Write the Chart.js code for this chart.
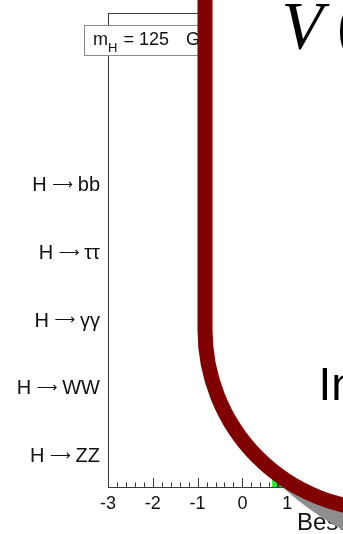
<!DOCTYPE html>
<html>
<head>
<meta charset="utf-8">
<title>Best fit signal strength</title>
<script src="https://cdn.jsdelivr.net/npm/chart.js@4.4.1/dist/chart.umd.min.js"></script>
<style>
  html, body { margin: 0; padding: 0; background: #fff; }
  .chart-container { width: 343px; height: 534px; }
</style>
</head>
<body>
<div class="chart-container"><canvas id="myChart" width="343" height="534"></canvas></div>
<script>
/******************************************* chart data **/
// decay channels, bottom to top
const channels = ["H → ZZ", "H → WW", "H → γγ", "H → ττ", "H → bb"];

// best fit sigma/sigma_SM per channel (hidden under the slide frame)
const muBest = [0.91, 0.76, 0.78, 1.1, 1.15];
const muErrDown = [0.24, 0.21, 0.26, 0.41, 0.62];
const muErrUp = [0.3, 0.21, 0.28, 0.41, 0.62];

// combined result and its green band
const muCombined = [0.8];
const bandEdges = [0.66, 0.94];

// x axis tick labels
const xTicks = [-3, -2, -1, 0, 1, 2];

/******************************************* dom selectors **/
const ctx = document.getElementById("myChart");

/******************************************* global variable**/
const yMin = -0.47;
const yMax = 6.53;
const axisColor = "#3a3a3a";
const textColor = "#111";
const sans = "'Liberation Sans', Arial, sans-serif";
const serif = "'Liberation Serif', 'Times New Roman', serif";

Chart.defaults.font.family = sans;
Chart.defaults.color = textColor;

/******************************************* plugins **/
// error bars, inward tick marks, channel labels and the frame pieces
const plotExtras = {
  id: "plotExtras",
  afterDatasetsDraw(chart) {
    const { ctx, chartArea, scales: { x, y } } = chart;
    ctx.save();

    // error bars
    ctx.beginPath();
    ctx.rect(chartArea.left, chartArea.top, chartArea.right - chartArea.left, chartArea.bottom - chartArea.top);
    ctx.clip();
    ctx.strokeStyle = "#000";
    ctx.lineWidth = 2;
    channels.forEach((c, i) => {
      const py = y.getPixelForValue(i);
      ctx.beginPath();
      ctx.moveTo(x.getPixelForValue(muBest[i] - muErrDown[i]), py);
      ctx.lineTo(x.getPixelForValue(muBest[i] + muErrUp[i]), py);
      ctx.stroke();
    });
    ctx.restore();

    // tick marks pointing up into the frame, minor every 0.2
    ctx.save();
    ctx.strokeStyle = axisColor;
    ctx.lineWidth = 1;
    ctx.beginPath();
    for (let i = 0; i <= (x.max - x.min) * 5; i++) {
      const px = Math.round(x.getPixelForValue(x.min + i * 0.2)) + 0.5;
      const len = i % 5 === 0 ? 9 : 4.5;
      ctx.moveTo(px, chartArea.bottom);
      ctx.lineTo(px, chartArea.bottom - len);
    }
    // top and right frame lines
    ctx.moveTo(chartArea.left, chartArea.top + 0.5);
    ctx.lineTo(chartArea.right, chartArea.top + 0.5);
    ctx.lineTo(chartArea.right + 0.5, chartArea.bottom);
    ctx.stroke();

    // channel labels: "H", a thin long arrow, final state
    ctx.fillStyle = textColor;
    ctx.textBaseline = "alphabetic";
    ctx.textAlign = "left";
    channels.forEach((label, i) => {
      const py = y.getPixelForValue(i);
      const [head, tail] = label.split(" → ");
      ctx.font = "20px " + sans;
      const capH = ctx.measureText("H").actualBoundingBoxAscent;
      const base = py + capH / 2;
      const wHead = ctx.measureText(head + " ").width;
      const wTail = ctx.measureText(" " + tail).width;
      const slot = ctx.measureText("→").width;
      const px = chartArea.left - 8 - wTail - slot - wHead;
      ctx.fillText(head, px, base);
      ctx.fillText(" " + tail, px + wHead + slot, base);

      // arrow scaled so its ink is 20px long
      ctx.font = "13px 'DejaVu Sans'";
      let m = ctx.measureText("⟶");
      const size = (13 * 20) / (m.actualBoundingBoxLeft + m.actualBoundingBoxRight);
      ctx.font = size.toFixed(2) + "px 'DejaVu Sans'";
      m = ctx.measureText("⟶");
      const ax = px + wHead + slot / 2 - (m.actualBoundingBoxRight - m.actualBoundingBoxLeft) / 2;
      const ay = py + (m.actualBoundingBoxAscent - m.actualBoundingBoxDescent) / 2;
      ctx.fillText("⟶", ax, ay);
    });

    // mass label box
    ctx.fillStyle = "#fff";
    ctx.fillRect(84.5, 25.5, 200, 30);
    ctx.strokeStyle = "#8a8a8a";
    ctx.strokeRect(84.5, 25.5, 200, 30);
    ctx.fillStyle = textColor;
    ctx.font = "18px " + sans;
    ctx.fillText("m", 93, 45);
    let tx = 93 + ctx.measureText("m").width;
    ctx.font = "13px " + sans;
    ctx.fillText("H", tx, 51.5);
    tx += ctx.measureText("H").width;
    ctx.font = "18px " + sans;
    ctx.fillText(" = 125", tx + 1, 45);
    ctx.fillText("GeV", 186, 45);

    // x axis title
    ctx.font = "24px " + sans;
    ctx.fillText("Best fit σ/σ", 297, 530);
    ctx.restore();
  },
};

// slide frame laid over the plot
const slideOverlay = {
  id: "slideOverlay",
  afterDraw(chart) {
    const ctx = chart.ctx;
    const cx = 385;
    const cy = 330;
    const r = 180;

    ctx.save();
    // grey shadow under the lower curve
    ctx.save();
    ctx.beginPath();
    ctx.rect(270, 482, 90, 60);
    ctx.clip();
    ctx.fillStyle = "#8e8e8e";
    ctx.beginPath();
    ctx.arc(494, 255, 314, 0, Math.PI * 2);
    ctx.fill();
    ctx.restore();

    // white inside of the frame
    ctx.beginPath();
    ctx.moveTo(cx - r, -20);
    ctx.lineTo(cx - r, cy);
    ctx.arc(cx, cy, r, Math.PI, Math.PI / 2, true);
    ctx.lineTo(440, cy + r);
    ctx.lineTo(440, -20);
    ctx.closePath();
    ctx.fillStyle = "#fff";
    ctx.fill();

    // dark red border
    ctx.beginPath();
    ctx.moveTo(cx - r, -20);
    ctx.lineTo(cx - r, cy);
    ctx.arc(cx, cy, r, Math.PI, Math.PI / 2, true);
    ctx.lineTo(440, cy + r);
    ctx.lineWidth = 15;
    ctx.strokeStyle = "#800000";
    ctx.stroke();

    // slide text
    ctx.fillStyle = "#000";
    ctx.textBaseline = "alphabetic";
    ctx.textAlign = "left";
    ctx.font = "italic 68px " + serif;
    ctx.fillText("V", 281.5, 48);
    ctx.font = "68px " + serif;
    ctx.fillText("(", 337, 48);
    ctx.font = "46px " + sans;
    ctx.fillText("In", 318.5, 400);
    ctx.restore();
  },
};

/******************************************* chart **/
const myChart = new Chart(ctx, {
  type: "scatter",
  data: {
    datasets: [
      {
        label: "channels",
        data: muBest.map((m, i) => ({ x: m, y: i })),
        backgroundColor: "#000",
        borderColor: "#000",
        pointRadius: 4,
      },
      {
        label: "combined",
        type: "line",
        data: [
          { x: muCombined[0], y: yMin },
          { x: muCombined[0], y: yMax },
        ],
        borderColor: "#000",
        borderWidth: 2,
        pointRadius: 0,
      },
      {
        label: "band",
        type: "line",
        data: [
          { x: bandEdges[0], y: yMax },
          { x: bandEdges[1], y: yMax },
        ],
        fill: "start",
        backgroundColor: "#33ee33",
        borderWidth: 0,
        pointRadius: 0,
      },
    ],
  },
  options: {
    responsive: false,
    animation: false,
    devicePixelRatio: 1,
    layout: { padding: { top: 13, right: 10, left: 0, bottom: 0 } },
    plugins: {
      legend: { display: false },
      tooltip: { enabled: false },
    },
    scales: {
      x: {
        type: "linear",
        min: xTicks[0],
        max: xTicks[xTicks.length - 1],
        afterBuildTicks: (scale) => {
          scale.ticks = xTicks.map((v) => ({ value: v }));
        },
        afterFit: (scale) => {
          scale.height = 47;
        },
        grid: { display: false, drawTicks: false },
        border: { display: true, color: axisColor, width: 1 },
        ticks: {
          autoSkip: false,
          maxRotation: 0,
          padding: 6,
          font: { size: 18 },
          color: textColor,
          callback: (value) => String(value),
        },
      },
      y: {
        type: "linear",
        min: yMin,
        max: yMax,
        afterBuildTicks: (scale) => {
          scale.ticks = channels.map((c, i) => ({ value: i }));
        },
        afterFit: (scale) => {
          scale.width = 108;
        },
        grid: { display: false, drawTicks: false },
        border: { display: true, color: axisColor, width: 1 },
        // labels are drawn by plotExtras so the arrow can use its own font
        ticks: { display: false },
      },
    },
  },
  plugins: [plotExtras, slideOverlay],
});
</script>
</body>
</html>
